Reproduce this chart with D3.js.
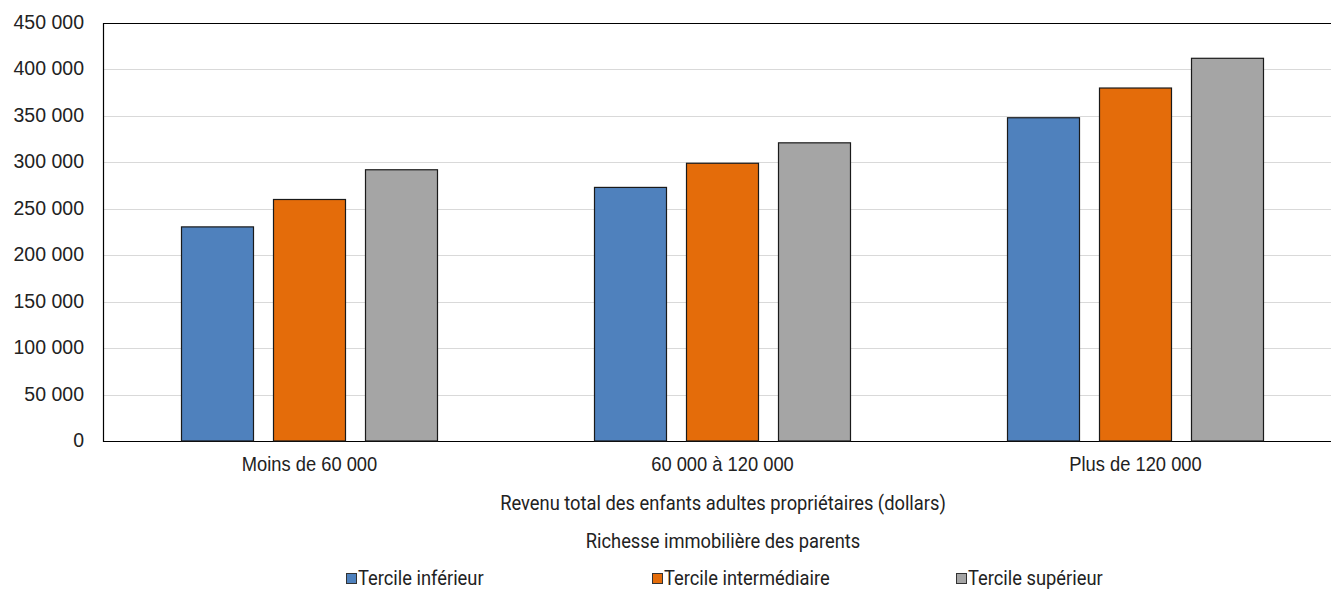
<!DOCTYPE html>
<html>
<head>
<meta charset="utf-8">
<script src="https://cdn.jsdelivr.net/npm/d3@7"></script>
<style>
  html, body { margin: 0; padding: 0; background: #fff; }
  svg { display: block; font-family: "Roboto", "Liberation Sans", sans-serif; }
</style>
</head>
<body>
<svg id="chart" width="1331" height="589"></svg>
<script>
// Revenu total des enfants adultes propriétaires, selon la richesse immobilière des parents
const categories = ["Moins de 60 000", "60 000 à 120 000", "Plus de 120 000"];
const seriesNames = ["Tercile inférieur", "Tercile intermédiaire", "Tercile supérieur"];
const tercileInferieur = [230500, 273000, 348000];
const tercileIntermediaire = [260000, 299000, 380000];
const tercileSuperieur = [292000, 321000, 412000];
const yTicks = [0, 50000, 100000, 150000, 200000, 250000, 300000, 350000, 400000, 450000];
const colors = ["#4f81bd", "#e46c0a", "#a5a5a5"];

const series = [tercileInferieur, tercileIntermediaire, tercileSuperieur];

const svg = d3.select("#chart");
const margin = { left: 103, top: 23, bottom: 441 };
const bandStep = 413;
const fontSize = 19.5;
const narrow = "scale(0.94,1)";

const x = d3.scaleBand()
  .domain(categories)
  .range([margin.left, margin.left + bandStep * categories.length])
  .paddingInner(0).paddingOuter(0);

const y = d3.scaleLinear().domain([0, 450000]).range([margin.bottom, margin.top]);

const xInner = d3.scaleBand()
  .domain(seriesNames)
  .range([x.bandwidth() / 2 - 128, x.bandwidth() / 2 + 128])
  .paddingInner(20 / 92).paddingOuter(0);

const fmt = v => d3.format(",")(v).replace(/,/g, " ");

// horizontal gridlines
svg.append("g")
  .selectAll("line")
  .data(yTicks.filter(t => t > 0 && t < 450000))
  .join("line")
  .attr("x1", margin.left).attr("x2", 1331)
  .attr("y1", d => Math.round(y(d)) + 0.5).attr("y2", d => Math.round(y(d)) + 0.5)
  .attr("stroke", "#d9d9d9").attr("stroke-width", 1);

// plot frame: top, left, bottom
svg.append("path")
  .attr("d", `M1331,${margin.top + 0.5}H${margin.left + 0.5}V${margin.bottom + 0.5}H1331`)
  .attr("fill", "none").attr("stroke", "#000").attr("stroke-width", 1.2);

// y axis labels
const yAxis = d3.axisLeft(y).tickValues(yTicks).tickSize(0).tickPadding(19).tickFormat(fmt);
const gy = svg.append("g").attr("transform", `translate(${margin.left},0)`).call(yAxis);
gy.select(".domain").remove();
gy.selectAll("text").attr("font-size", fontSize).attr("fill", "#222")
  .attr("font-family", "inherit").attr("dy", "0.28em");

// x axis labels
const xAxis = d3.axisBottom(x).tickSize(0).tickPadding(0);
const gx = svg.append("g").attr("transform", `translate(0,${margin.bottom})`).call(xAxis);
gx.select(".domain").remove();
gx.selectAll("text").attr("font-size", fontSize).attr("fill", "#222")
  .attr("font-family", "inherit").attr("y", 30).attr("dy", null)
  .attr("transform", narrow);

// bars
const groups = svg.append("g")
  .selectAll("g")
  .data(categories)
  .join("g")
  .attr("transform", d => `translate(${x(d)},0)`);

groups.selectAll("rect")
  .data((d, i) => seriesNames.map((s, j) => ({ s, j, v: series[j][i] })))
  .join("rect")
  .attr("x", d => xInner(d.s))
  .attr("width", xInner.bandwidth())
  .attr("y", d => y(d.v))
  .attr("height", d => y(0) - y(d.v))
  .attr("fill", d => colors[d.j])
  .attr("stroke", "#1a1a1a").attr("stroke-width", 1.2);

// axis titles
const titles = [
  { text: "Revenu total des enfants adultes propriétaires (dollars)", y: 510 },
  { text: "Richesse immobilière des parents", y: 548 }
];
svg.append("g").selectAll("text").data(titles).join("text")
  .attr("transform", d => `translate(723,${d.y}) ${narrow}`)
  .attr("text-anchor", "middle")
  .attr("font-size", fontSize).attr("fill", "#222").text(d => d.text);

// legend
const legendX = [346, 652, 956];
const legend = svg.append("g").selectAll("g").data(seriesNames).join("g")
  .attr("transform", (d, i) => `translate(${legendX[i]},573)`);
legend.append("rect").attr("x", 0.5).attr("y", 0.5).attr("width", 10).attr("height", 10)
  .attr("fill", (d, i) => colors[i]).attr("stroke", "#333").attr("stroke-width", 1);
legend.append("text").attr("transform", `translate(12,11.5) ${narrow}`)
  .attr("font-size", fontSize).attr("fill", "#222").text(d => d);
</script>
</body>
</html>
